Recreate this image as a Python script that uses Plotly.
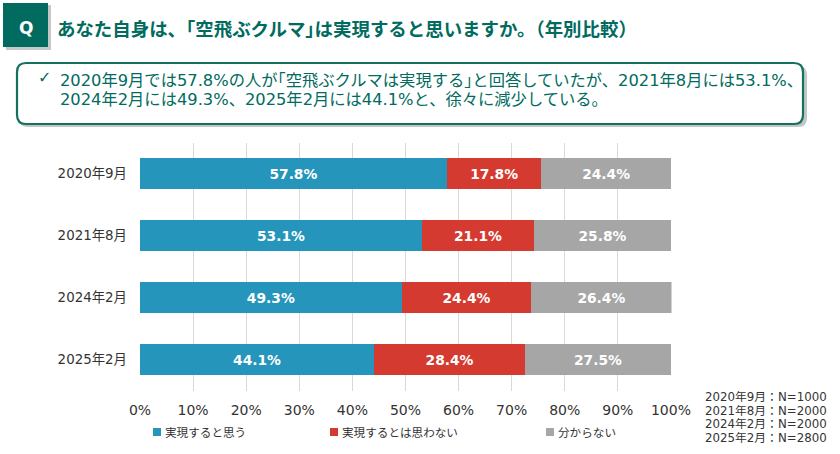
import plotly.graph_objects as go

categories = ["2020年9月", "2021年8月", "2024年2月", "2025年2月"]
series_names = ["実現すると思う", "実現するとは思わない", "分からない"]
yes_values = [57.8, 53.1, 49.3, 44.1]
no_values = [17.8, 21.1, 24.4, 28.4]
unknown_values = [24.4, 25.8, 26.4, 27.5]
colors = ["#2595BC", "#D53A30", "#A6A6A6"]
x_ticks = list(range(0, 101, 10))
title_text = "あなた自身は、｢空飛ぶクルマ｣は実現すると思いますか。（年別比較）"
note_line1 = "2020年9月では57.8%の人が｢空飛ぶクルマは実現する｣と回答していたが、2021年8月には53.1%、"
note_line2 = "2024年2月には49.3%、2025年2月には44.1%と、徐々に減少している。"
sample_notes = ["2020年9月：N=1000", "2021年8月：N=2000", "2024年2月：N=2000", "2025年2月：N=2800"]

W, H = 840, 454
FONT = "DejaVu Sans, Noto Sans CJK JP, sans-serif"
TEAL = "#006B5E"
ML, MR = 40, 40

def px(v):
    return (v - ML) / (W - ML - MR)

def py(v):
    return 1 - v / H

def rounded(x0, y0, x1, y1, r):
    return (f"M{px(x0+r)},{py(y0)} L{px(x1-r)},{py(y0)} Q{px(x1)},{py(y0)} {px(x1)},{py(y0+r)} "
            f"L{px(x1)},{py(y1-r)} Q{px(x1)},{py(y1)} {px(x1-r)},{py(y1)} L{px(x0+r)},{py(y1)} "
            f"Q{px(x0)},{py(y1)} {px(x0)},{py(y1-r)} L{px(x0)},{py(y0+r)} Q{px(x0)},{py(y0)} {px(x0+r)},{py(y0)} Z")

fig = go.Figure()
for i, (name, vals) in enumerate(zip(series_names, [yes_values, no_values, unknown_values])):
    fig.add_trace(go.Bar(
        y=categories, x=vals, name=name, orientation="h", width=0.5,
        marker=dict(color=colors[i], line=dict(width=0)),
        text=[f"{v:.1f}%" for v in vals], textposition="inside", insidetextanchor="middle",
        textangle=0, textfont=dict(family=FONT, size=13.8, color="white", weight="bold"),
        constraintext="none", cliponaxis=False, showlegend=False,
    ))

shapes = [
    dict(type="rect", xref="paper", yref="paper", x0=px(6), x1=px(51), y0=py(5), y1=py(50),
         fillcolor="#C4C9C8", line_width=0, layer="below"),
    dict(type="rect", xref="paper", yref="paper", x0=px(3), x1=px(48), y0=py(3), y1=py(47),
         fillcolor=TEAL, line_width=0),
    dict(type="path", xref="paper", yref="paper", path=rounded(19, 66, 807, 127, 9),
         fillcolor="#BFC8C6", line_width=0, layer="below"),
    dict(type="path", xref="paper", yref="paper", path=rounded(17, 63, 803, 124, 9),
         fillcolor="white", line=dict(color="#14705F", width=2.2)),
]

def label(x, y, text, size, color, anchor="left", weight="normal"):
    return dict(xref="paper", yref="paper", x=px(x), y=py(y), text=text, showarrow=False, xanchor=anchor,
                yanchor="middle", xshift=0, yshift=0,
                font=dict(family=FONT, size=size, color=color, weight=weight))

annotations = [
    label(25.5, 28, "Q", 17, "white", "center", "bold"),
    label(55, 30, title_text, 18.45, TEAL, weight="bold"),
    label(36, 77, "✓", 16, TEAL),
    label(58, 80, note_line1, 16.3, TEAL),
    label(58, 100, note_line2, 16.3, TEAL),
]
for i, s in enumerate(sample_notes):
    annotations.append(label(703, 397 + i * 13.6, s, 11.8, "#333333"))

legend_x = [153, 330, 546]
for x, name, color in zip(legend_x, series_names, colors):
    shapes.append(dict(type="rect", xref="paper", yref="paper", x0=px(x), x1=px(x + 8),
                       y0=py(428), y1=py(436), fillcolor=color, line_width=0))
    annotations.append(label(x + 10, 433, name, 11.6, "#333333"))

fig.update_layout(
    width=W, height=H, autosize=False, barmode="stack", bargap=0.5,
    margin=dict(l=ML, r=MR, t=0, b=0), paper_bgcolor="white", plot_bgcolor="white",
    xaxis=dict(domain=[px(140), px(671.5)], range=[0, 100.1], tickvals=x_ticks, ticktext=[f"{v}%" for v in x_ticks],
               showgrid=True, gridcolor="#D9D9D9", gridwidth=1, zeroline=False, showline=False, ticks="",
               ticklabelstandoff=9, tickfont=dict(family=FONT, size=14, color="#333333"), fixedrange=True),
    yaxis=dict(domain=[py(390.5), py(142.5)], autorange="reversed", type="category", ticks="",
               showgrid=False, showline=False, ticklabelstandoff=12,
               tickfont=dict(family=FONT, size=13.4, color="#333333"), fixedrange=True),
    shapes=shapes, annotations=annotations, showlegend=False,
)
fig.write_html("out.html", post_script="document.body.style.margin='0';", config={"displayModeBar": False})
